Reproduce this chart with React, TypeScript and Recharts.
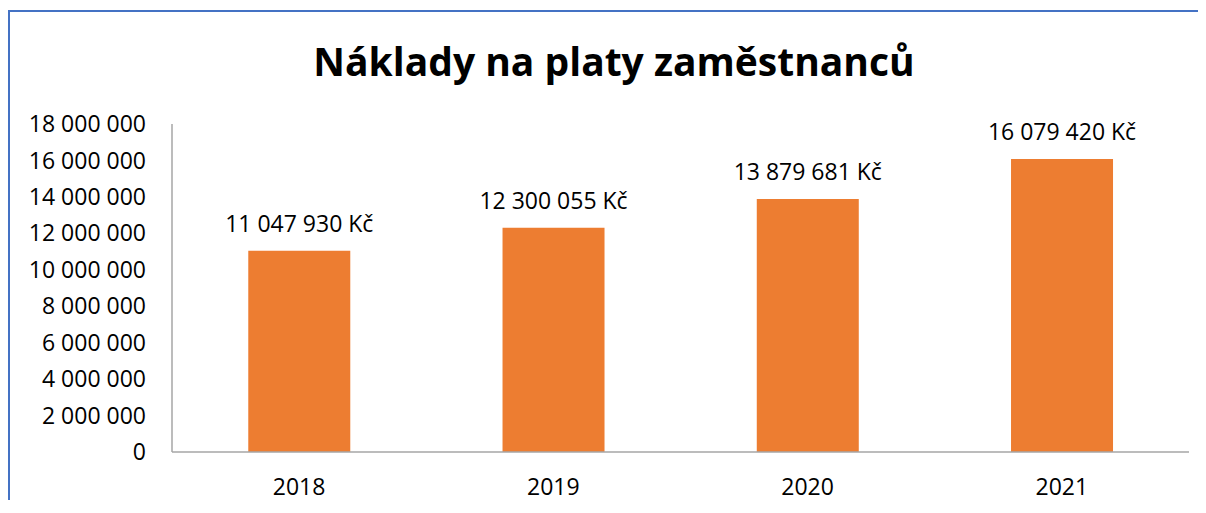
import { BarChart, Bar, XAxis, YAxis, LabelList } from "recharts";

const YEARS = ["2018", "2019", "2020", "2021"];
const SALARY_COSTS = [11047930, 12300055, 13879681, 16079420];
const Y_TICKS = [0, 2000000, 4000000, 6000000, 8000000, 10000000, 12000000, 14000000, 16000000, 18000000];

const BAR_COLOR = "#ED7D31";
const AXIS_COLOR = "#A6A6A6";
const FONT = "'Open Sans', Calibri, sans-serif";

const data = YEARS.map((year, i) => ({ year, value: SALARY_COSTS[i] }));

// czech style thousands grouping: "12 300 055"
const groupThousands = (v: number) =>
  String(Math.round(v)).replace(/\B(?=(\d{3})+(?!\d))/g, " ");

function ValueLabel(props: {
  x?: number | string;
  y?: number | string;
  width?: number | string;
  value?: number | string;
}) {
  const x = Number(props.x ?? 0);
  const y = Number(props.y ?? 0);
  const w = Number(props.width ?? 0);
  return (
    <text
      x={x + w / 2}
      y={y - 19}
      textAnchor="middle"
      fontSize={23}
      fontFamily={FONT}
      fill="#000"
    >
      {groupThousands(Number(props.value)) + " Kč"}
    </text>
  );
}

export default function App() {
  return (
    <div
      style={{
        position: "relative",
        top: 2,
        width: 1196,
        height: 490,
        borderTop: "2px solid #4472C4",
        borderLeft: "2px solid #4472C4",
        background: "#fff",
        fontFamily: FONT,
        overflow: "hidden",
      }}
    >
      <div
        style={{
          position: "absolute",
          left: 0,
          top: 24,
          width: 1192,
          paddingLeft: 16,
          boxSizing: "border-box",
          textAlign: "center",
          fontSize: 39,
          fontWeight: 700,
          color: "#000",
          lineHeight: "50px",
        }}
      >
        Náklady na platy zaměstnanců
      </div>
      <BarChart
        width={1192}
        height={500}
        data={data}
        margin={{ top: 112, right: 13, bottom: 10, left: 12 }}
        barCategoryGap="30%"
      >
        <XAxis
          dataKey="year"
          height={50}
          axisLine={{ stroke: AXIS_COLOR, strokeWidth: 1.5 }}
          tickLine={false}
          tickSize={0}
          tickMargin={27}
          tick={{ fontSize: 23, fill: "#000", fontFamily: FONT }}
        />
        <YAxis
          width={150}
          domain={[0, 18000000]}
          ticks={Y_TICKS}
          interval={0}
          tickFormatter={groupThousands}
          axisLine={{ stroke: AXIS_COLOR, strokeWidth: 1.5 }}
          tickLine={false}
          tickSize={0}
          tickMargin={26}
          tick={{ fontSize: 23, fill: "#000", fontFamily: FONT }}
        />
        <Bar dataKey="value" fill={BAR_COLOR} isAnimationActive={false}>
          <LabelList dataKey="value" content={<ValueLabel />} />
        </Bar>
      </BarChart>
    </div>
  );
}
